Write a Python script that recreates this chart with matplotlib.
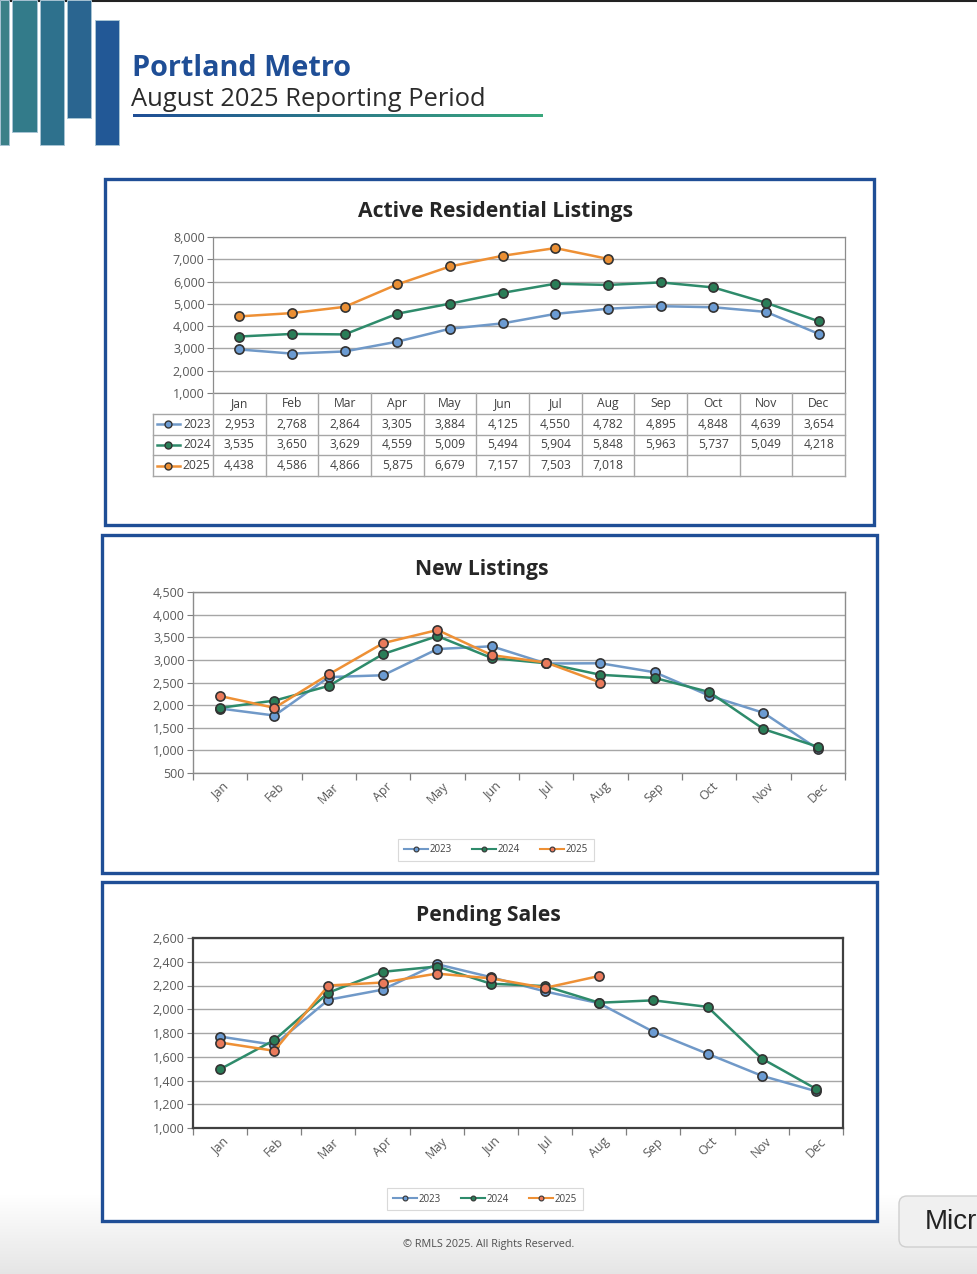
import matplotlib
matplotlib.use('Agg')
import matplotlib.pyplot as plt
import numpy as np
from matplotlib.patches import Rectangle, FancyBboxPatch
from matplotlib.lines import Line2D
from matplotlib.ticker import FuncFormatter, MultipleLocator, FixedLocator

plt.rcParams['font.family'] = ['Open Sans', 'DejaVu Sans']

# ---------------- data ----------------
months = ['Jan', 'Feb', 'Mar', 'Apr', 'May', 'Jun', 'Jul', 'Aug', 'Sep', 'Oct', 'Nov', 'Dec']
years = ['2023', '2024', '2025']

active_2023 = [2953, 2768, 2864, 3305, 3884, 4125, 4550, 4782, 4895, 4848, 4639, 3654]
active_2024 = [3535, 3650, 3629, 4559, 5009, 5494, 5904, 5848, 5963, 5737, 5049, 4218]
active_2025 = [4438, 4586, 4866, 5875, 6679, 7157, 7503, 7018]

new_2023 = [1925, 1770, 2620, 2660, 3240, 3300, 2920, 2925, 2725, 2210, 1830, 1030]
new_2024 = [1940, 2100, 2425, 3130, 3525, 3040, 2925, 2670, 2600, 2290, 1470, 1080]
new_2025 = [2200, 1940, 2680, 3370, 3660, 3105, 2940, 2500]

pend_2023 = [1770, 1700, 2080, 2165, 2380, 2270, 2150, 2050, 1810, 1625, 1440, 1310]
pend_2024 = [1495, 1740, 2140, 2315, 2360, 2215, 2195, 2055, 2075, 2020, 1585, 1330]
pend_2025 = [1720, 1650, 2200, 2225, 2300, 2260, 2180, 2280]

# ---------------- styling ----------------
W, H = 978, 1274
DPI = 100
LINE_C = {'2023': '#7099c8', '2024': '#2e8b6b', '2025': '#ee9035'}
FACE_1 = {'2023': '#6b9bd2', '2024': '#2a7d57', '2025': '#ea8f34'}
FACE_2 = {'2023': '#6b9bd2', '2024': '#2a7d57', '2025': '#ea7a5b'}
EDGE = '#333333'
TXT = '#404040'
GRID = '#a6a6a6'
PANEL = '#1f4e96'

fig = plt.figure(figsize=(W / DPI, H / DPI), dpi=DPI)
fig.patch.set_facecolor('white')


def box(x0, y0, x1, y1):
    return [x0 / W, 1 - y1 / H, (x1 - x0) / W, (y1 - y0) / H]


# background / decoration axes
bg = fig.add_axes([0, 0, 1, 1], zorder=0)
bg.set_xlim(0, W)
bg.set_ylim(H, 0)
bg.axis('off')

grad = np.linspace(1.0, 0.90, 100).reshape(-1, 1)
bg.imshow(np.dstack([grad, grad, grad]), extent=[0, W, H, 1195], aspect='auto', zorder=0)

bg.plot([0, W], [0.5, 0.5], color='#222222', lw=1.5, zorder=1)

bars = [(0, 9, 0, 145, '#3b8088'), (12, 37, 0, 132, '#337b8a'), (40, 64, 0, 145, '#2e718d'),
        (67, 91, 0, 118, '#2a6590'), (95, 119, 20, 145, '#225896')]
for x0, x1, y0, y1, c in bars:
    bg.add_patch(Rectangle((x0, y0), x1 - x0, y1 - y0, facecolor=c, edgecolor='#a8c4d4', lw=0.7, zorder=2))

bg.text(132, 68, 'Portland Metro', fontsize=20.8, fontweight='bold', color='#1f4e96', ha='left', va='center', zorder=3)
bg.text(131, 99, 'August 2025 Reporting Period', fontsize=18.4, color='#2b2b2b', ha='left', va='center', zorder=3)
ul = np.linspace(0, 1, 200).reshape(1, -1)
c0 = np.array([0x1f, 0x4e, 0x96]) / 255
c1 = np.array([0x3a, 0xa8, 0x7c]) / 255
ulimg = c0[None, None, :] * (1 - ul[..., None]) + c1[None, None, :] * ul[..., None]
bg.imshow(ulimg, extent=[133, 543, 117, 114], aspect='auto', zorder=3)

for (x0, y0, x1, y1) in [(105, 179, 874, 525), (102, 535, 877, 873), (102, 882, 877, 1221)]:
    bg.add_patch(Rectangle((x0, y0), x1 - x0, y1 - y0, facecolor='white', edgecolor=PANEL, lw=2.4, zorder=2))

bg.text(489, 1244, '\u00a9 RMLS 2025. All Rights Reserved.', fontsize=7.8, color='#505050', ha='center', va='center', zorder=3)

bg.add_patch(FancyBboxPatch((899, 1196), 100, 51, boxstyle='round,pad=0,rounding_size=8',
                            facecolor='#f0f0f0', edgecolor='#cfcfcf', lw=1, zorder=3, clip_on=True))
bg.text(925, 1222, 'Micr', fontsize=20, color='#222222', ha='left', va='center',
        family=['Liberation Sans', 'DejaVu Sans'], zorder=4)

x = np.arange(12)
comma = FuncFormatter(lambda v, p: f'{int(v):,}')


def style_axis(ax, ylo, yhi, step, spine_c, spine_w):
    ax.set_xlim(-0.5, 11.5)
    ax.set_ylim(ylo, yhi)
    ax.yaxis.set_major_locator(MultipleLocator(step))
    ax.yaxis.set_major_formatter(comma)
    ax.grid(axis='y', color=GRID, lw=1, zorder=0)
    ax.set_axisbelow(True)
    for s in ax.spines.values():
        s.set_color(spine_c)
        s.set_linewidth(spine_w)
    ax.tick_params(axis='y', length=4, width=0.8, color='#7f7f7f', labelsize=9, labelcolor='#595959', pad=2)


def plot_series(ax, series, faces, ms=6.6):
    for yr, vals in series:
        ax.plot(x[:len(vals)], vals, color=LINE_C[yr], lw=1.8, marker='o', ms=ms,
                mfc=faces[yr], mec=EDGE, mew=1.2, zorder=3, clip_on=False)


# ---------------- chart 1 ----------------
ax1 = fig.add_axes(box(213, 237, 845, 393), zorder=5)
style_axis(ax1, 1000, 8000, 1000, '#8c8c8c', 0.9)
ax1.set_xticks([])
plot_series(ax1, [('2023', active_2023), ('2024', active_2024), ('2025', active_2025)], FACE_1)
bg.text(496, 212, 'Active Residential Listings', fontsize=15.2, fontweight='bold', color='#262626',
        ha='center', va='center', zorder=3)

colw = (845 - 213) / 12
lab_w = (213 - 153) / colw
axt = fig.add_axes(box(153, 393, 845, 476), zorder=5)
axt.set_xlim(-0.5 - lab_w, 11.5)
axt.set_ylim(4, 0)
axt.axis('off')
xl = -0.5 - lab_w
for i in range(13):
    axt.plot([-0.5 + i, -0.5 + i], [0, 4], color=GRID, lw=1, clip_on=False)
axt.plot([xl, xl], [1, 4], color=GRID, lw=1, clip_on=False)
for r in range(1, 5):
    axt.plot([xl, 11.5], [r, r], color=GRID, lw=1, clip_on=False)
for i, m in enumerate(months):
    axt.text(i, 0.5, m, ha='center', va='center', fontsize=8.7, color=TXT)
for r, (yr, vals) in enumerate([('2023', active_2023), ('2024', active_2024), ('2025', active_2025)], start=1):
    for i, v in enumerate(vals):
        axt.text(i, r + 0.5, f'{v:,}', ha='center', va='center', fontsize=8.7, color=TXT)
    axt.add_line(Line2D([-1.563, -1.127], [r + 0.5, r + 0.5], color=LINE_C[yr], lw=1.8))
    axt.add_line(Line2D([-1.345], [r + 0.5], marker='o', ms=5, mfc=FACE_1[yr], mec=EDGE, mew=1.0))
    axt.text(-0.545, r + 0.5, yr, ha='right', va='center', fontsize=8.7, color=TXT)


def cat_axis(ax):
    ax.set_xticks(x)
    ax.set_xticklabels(months, rotation=45, ha='center', fontsize=9, color='#595959')
    ax.tick_params(axis='x', which='major', length=0, pad=5)
    ax.xaxis.set_minor_locator(FixedLocator(np.arange(-0.5, 12, 1)))
    ax.tick_params(axis='x', which='minor', length=5, width=0.9, color='#7f7f7f')


def legend(ax, faces, cx, cy):
    hs = [Line2D([], [], color=LINE_C[y], lw=1.5, marker='o', ms=3.5, mfc=faces[y], mec=EDGE, mew=0.8)
          for y in years]
    lg = ax.legend(hs, years, loc='center', bbox_to_anchor=(cx / W, 1 - cy / H), bbox_transform=fig.transFigure,
                   ncol=3, fontsize=7, frameon=True, fancybox=False, edgecolor='#d0d0d0',
                   handlelength=2.5, columnspacing=2.0, handletextpad=0.2, borderpad=0.6)
    lg.get_frame().set_linewidth(0.8)
    for t in lg.get_texts():
        t.set_color('#404040')


# ---------------- chart 2 ----------------
ax2 = fig.add_axes(box(193, 592, 845, 773), zorder=5)
style_axis(ax2, 500, 4500, 500, '#8c8c8c', 1.0)
cat_axis(ax2)
plot_series(ax2, [('2023', new_2023), ('2024', new_2024), ('2025', new_2025)], FACE_2)
bg.text(482, 570, 'New Listings', fontsize=15.2, fontweight='bold', color='#262626', ha='center', va='center', zorder=3)
legend(ax2, FACE_2, 496, 850)

# ---------------- chart 3 ----------------
ax3 = fig.add_axes(box(193, 938, 843, 1128), zorder=5)
style_axis(ax3, 1000, 2600, 200, '#404040', 1.6)
cat_axis(ax3)
plot_series(ax3, [('2023', pend_2023), ('2024', pend_2024), ('2025', pend_2025)], FACE_2)
bg.text(488, 915, 'Pending Sales', fontsize=15.2, fontweight='bold', color='#262626', ha='center', va='center', zorder=3)
legend(ax3, FACE_2, 485, 1199)

fig.savefig('out.png', dpi=DPI)
